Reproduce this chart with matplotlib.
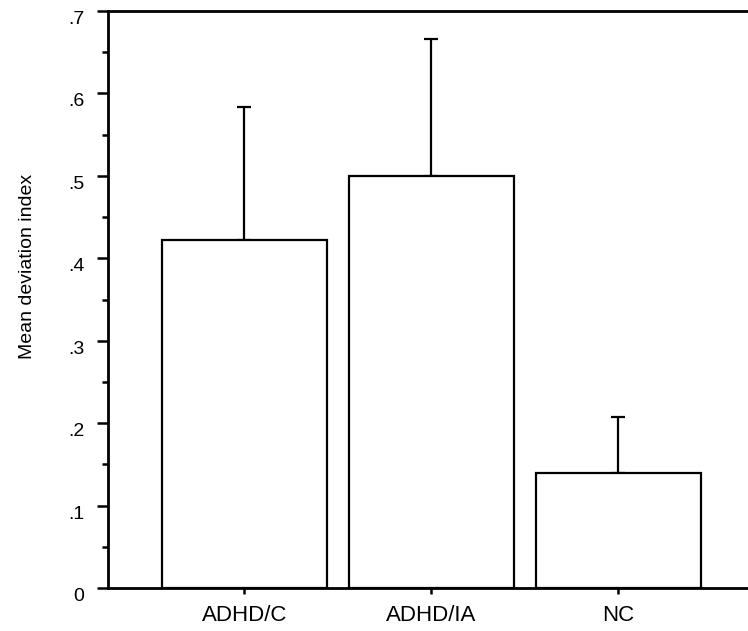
import numpy as np
import matplotlib.pyplot as plt

plt.rcParams['font.family'] = ['Liberation Sans', 'DejaVu Sans']

groups = ['ADHD/C', 'ADHD/IA', 'NC']
means = [0.422, 0.500, 0.140]
upper = [0.584, 0.666, 0.208]

yticks = [0, 0.1, 0.2, 0.3, 0.4, 0.5, 0.6, 0.7]
ytick_labels = ['0', '.1', '.2', '.3', '.4', '.5', '.6', '.7']

fig = plt.figure(figsize=(7.48, 6.31), dpi=100)
ax = fig.add_axes([0.1444, 0.0681, 0.8556, 0.9144])

x = np.arange(len(groups))
err = [u - m for u, m in zip(upper, means)]
ax.bar(x, means, width=0.88, color='white', edgecolor='black', linewidth=1.6, zorder=2)
ax.errorbar(x, means, yerr=[np.zeros(len(x)), err], fmt='none', ecolor='black',
            elinewidth=1.6, capsize=4.7, capthick=1.6, zorder=1)

ax.set_xlim(-0.730, 2.693)
ax.set_ylim(0, 0.7)
ax.set_xticks(x)
ax.set_xticklabels(groups, fontsize=16)
ax.set_yticks(yticks)
# цифры на оси Y чуть ниже риски, как в оригинале
ax.set_yticklabels(ytick_labels, fontsize=14, va='top')
ax.set_yticks(np.arange(0.05, 0.7, 0.1), minor=True)
ax.tick_params(axis='y', which='major', length=8, width=1.8, pad=9)
ax.tick_params(axis='y', which='minor', length=4.5, width=1.8)
ax.tick_params(axis='x', length=4.5, width=1.8, pad=8)
ax.set_ylabel('Mean deviation index', fontsize=14)
ax.yaxis.set_label_coords(-0.112, 0.558)

for s in ['left', 'bottom', 'top']:
    ax.spines[s].set_linewidth(2)
ax.spines['right'].set_visible(False)

fig.savefig('out.png', dpi=100)
